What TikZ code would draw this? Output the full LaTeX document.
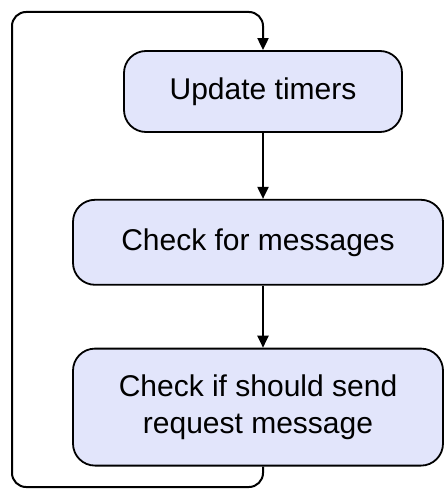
\documentclass[tikz,border=0pt]{standalone}
\usepackage{fontspec}
\setmainfont{Liberation Sans}
\usepackage{tikz}
\usetikzlibrary{positioning,arrows.meta}

\definecolor{boxfill}{RGB}{226,229,251}

\begin{document}
\begin{tikzpicture}[x=1pt, y=1pt,
	step box/.style={draw, line width=1.8pt, fill=boxfill, rounded corners=22pt,
		align=center, font=\fontsize{30}{37}\selectfont, inner sep=0pt},
	flow/.style={line width=2pt, -{Triangle[length=12pt,width=11pt]}},
	]
	\useasboundingbox (0,0) rectangle (444,-489);

	% Nodes
	% Main loop steps
	\node[step box, minimum width=278pt, minimum height=81pt] (timers) at (263,-91.5) {Update timers};
	\node[step box, minimum width=370pt, minimum height=85pt, below=66pt of timers, xshift=-5pt] (msgs) {Check for messages};
	\node[step box, minimum width=370pt, minimum height=117pt, below=62pt of msgs] (req) {Check if should send\\request message};

	% Corners of the return path
	\coordinate (loop-bl) at (12,-487);
	\coordinate (loop-tl) at (12,-12);

	% Edges
	\draw[flow] (timers.south) -- (timers.south |- msgs.north);
	\draw[flow] (timers.south |- msgs.south) -- (timers.south |- req.north);
	% Back to the top
	\draw[flow, rounded corners=14pt] (timers.south |- req.south) |- (loop-bl) |- (timers.north |- loop-tl) -- (timers.north);
\end{tikzpicture}
\end{document}
